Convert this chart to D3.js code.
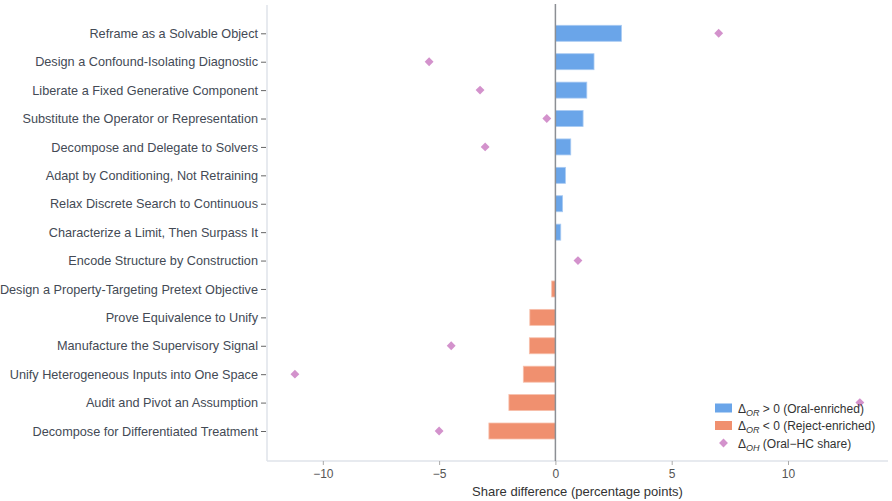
<!DOCTYPE html>
<html>
<head>
<meta charset="utf-8">
<script src="https://cdn.jsdelivr.net/npm/d3@7"></script>
<style>
  body { margin: 0; background: #fff; }
  svg { font-family: "Liberation Sans", Arial, sans-serif; }
</style>
</head>
<body>
<div id="chart"></div>
<script>
// categories top to bottom
const categories = [
  "Reframe as a Solvable Object",
  "Design a Confound-Isolating Diagnostic",
  "Liberate a Fixed Generative Component",
  "Substitute the Operator or Representation",
  "Decompose and Delegate to Solvers",
  "Adapt by Conditioning, Not Retraining",
  "Relax Discrete Search to Continuous",
  "Characterize a Limit, Then Surpass It",
  "Encode Structure by Construction",
  "Design a Property-Targeting Pretext Objective",
  "Prove Equivalence to Unify",
  "Manufacture the Supervisory Signal",
  "Unify Heterogeneous Inputs into One Space",
  "Audit and Pivot an Assumption",
  "Decompose for Differentiated Treatment"
];
// Delta_OR (bars)
const deltaOR = [2.84, 1.66, 1.35, 1.19, 0.66, 0.43, 0.31, 0.23, 0, -0.16, -1.1, -1.12, -1.38, -2.0, -2.86];
// Delta_OH (diamonds), null = not shown
const deltaOH = [7.02, -5.43, -3.24, -0.37, -3.02, null, null, null, 0.97, null, null, -4.48, -11.2, 13.09, -5.0];
const xTicks = [-10, -5, 0, 5, 10];

const W = 892, H = 501;
const margin = { top: 5, right: 4, bottom: 40, left: 267 };

const svg = d3.select("#chart").append("svg")
  .attr("width", W)
  .attr("height", H);

const x = d3.scaleLinear().domain([-12.4, 14.3]).range([margin.left, W - margin.right]);
const y = d3.scalePoint().domain(categories).range([33.3, 431]);

const blue = "#6aa5e9", orange = "#f0906f", pink = "#d392cc";
const barH = 16;

// axis lines
svg.append("line")
  .attr("x1", margin.left).attr("x2", margin.left)
  .attr("y1", margin.top).attr("y2", H - margin.bottom)
  .attr("stroke", "#dfe3ea").attr("stroke-width", 1.5);
svg.append("line")
  .attr("x1", margin.left).attr("x2", W - margin.right)
  .attr("y1", H - margin.bottom).attr("y2", H - margin.bottom)
  .attr("stroke", "#dfe3ea").attr("stroke-width", 1.5);

// y axis labels + ticks
const yAx = svg.append("g").attr("transform", `translate(${margin.left - 1},0)`)
  .call(d3.axisLeft(y).tickSize(5).tickPadding(3));
yAx.select(".domain").remove();
yAx.selectAll(".tick line").attr("stroke", "#666");
yAx.selectAll(".tick text").attr("fill", "#434a55").style("font-size", "12.7px")
  .style("font-family", "'Liberation Sans', Arial, sans-serif");

// x axis
const xAx = svg.append("g").attr("transform", `translate(0,${H - margin.bottom})`)
  .call(d3.axisBottom(x).tickValues(xTicks).tickSize(4).tickPadding(4)
    .tickFormat(d => d < 0 ? "\u2212" + Math.abs(d) : d));
xAx.select(".domain").remove();
xAx.selectAll(".tick line").attr("stroke", "#aaa");
xAx.selectAll(".tick text").attr("fill", "#555").style("font-size", "12px")
  .style("font-family", "'Liberation Sans', Arial, sans-serif");

svg.append("text")
  .attr("x", (margin.left + W - margin.right) / 2)
  .attr("y", 496)
  .attr("text-anchor", "middle")
  .attr("fill", "#333")
  .style("font-size", "13px")
  .text("Share difference (percentage points)");

// bars
const rows = categories.map((c, i) => ({ c, or: deltaOR[i], oh: deltaOH[i] }));
svg.append("g").selectAll("rect")
  .data(rows.filter(d => d.or !== 0))
  .join("rect")
  .attr("x", d => x(Math.min(0, d.or)))
  .attr("width", d => Math.abs(x(d.or) - x(0)))
  .attr("y", d => y(d.c) - barH / 2)
  .attr("height", barH)
  .attr("fill", d => d.or > 0 ? blue : orange)
  .attr("stroke", d => d.or > 0 ? "#a9cbf3" : "#f7c0ac")
  .attr("stroke-width", 0.8);

// zero line
svg.append("line")
  .attr("x1", x(0)).attr("x2", x(0))
  .attr("y1", 4).attr("y2", H - margin.bottom)
  .attr("stroke", "#8c8f94").attr("stroke-width", 1.5);

// diamonds
const diamond = d3.symbol().type(d3.symbolDiamond2).size(50);
svg.append("g").selectAll("path")
  .data(rows.filter(d => d.oh !== null))
  .join("path")
  .attr("d", diamond)
  .attr("transform", d => `translate(${x(d.oh)},${y(d.c)})`)
  .attr("fill", pink);

// legend
const legendItems = [
  { type: "bar", color: blue, sub: "OR", rest: " > 0 (Oral-enriched)" },
  { type: "bar", color: orange, sub: "OR", rest: " < 0 (Reject-enriched)" },
  { type: "dot", color: pink, sub: "OH", rest: " (Oral\u2212HC share)" }
];
const lg = svg.append("g").attr("transform", "translate(715,408)");
legendItems.forEach((d, i) => {
  const g = lg.append("g").attr("transform", `translate(0,${i * 17.5})`);
  if (d.type === "bar") {
    g.append("rect").attr("x", 0).attr("y", -4.5).attr("width", 17).attr("height", 9)
      .attr("fill", d.color);
  } else {
    g.append("path").attr("d", diamond).attr("transform", "translate(8.5,0)").attr("fill", d.color);
  }
  const t = g.append("text").attr("x", 23).attr("y", 4.5)
    .attr("fill", "#333").style("font-size", "12px");
  t.append("tspan").text("\u0394");
  t.append("tspan").attr("dy", 3).style("font-size", "9px").style("font-style", "italic").text(d.sub);
  t.append("tspan").attr("dy", -3).text(d.rest);
});
</script>
</body>
</html>
